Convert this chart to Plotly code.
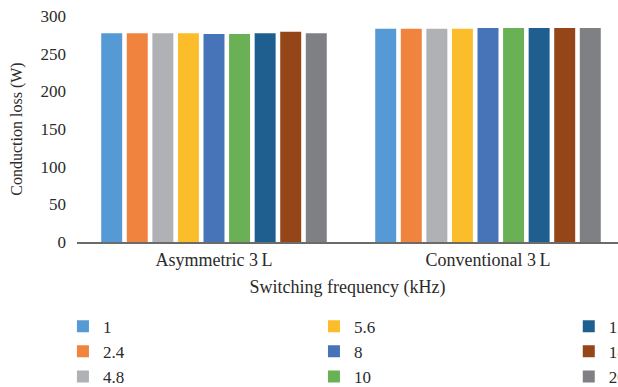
import plotly.graph_objects as go

categories = ["Asymmetric 3\u2009L", "Conventional 3\u2009L"]
frequencies = ["1", "2.4", "4.8", "5.6", "8", "10", "15", "18", "20"]
asym_values = [277, 277, 277, 277, 276, 276, 277, 279, 277]
conv_values = [283, 283, 283, 283, 284, 284, 284, 284, 284]
colors = ["#559AD5", "#F0833E", "#B0B1B4", "#FCBD2A", "#4774B8",
          "#6AB155", "#1F5F8F", "#954619", "#7F8083"]
legend_ids = ["legend", "legend", "legend", "legend2", "legend2", "legend2",
              "legend3", "legend3", "legend3"]

FONT = "Liberation Serif"
TXT = "#2b2b2b"

fig = go.Figure()
for i, f in enumerate(frequencies):
    fig.add_trace(go.Bar(
        x=categories, y=[asym_values[i], conv_values[i]], name=f,
        marker=dict(color=colors[i], line=dict(width=0)),
        legend=legend_ids[i],
    ))

leg_common = dict(orientation="v", yanchor="top", xanchor="left",
                  font=dict(family=FONT, size=17, color=TXT),
                  bgcolor="rgba(0,0,0,0)", itemwidth=30, y=-0.295)

fig.update_layout(
    width=618, height=387,
    margin=dict(l=77, r=0, t=16, b=145, autoexpand=False),
    plot_bgcolor="white", paper_bgcolor="white",
    barmode="group", bargap=0.16, bargroupgap=0.18,
    font=dict(family=FONT, color=TXT),
    xaxis=dict(range=[-0.5, 1.4745], showline=True, linecolor="#6b6b6b",
               linewidth=2, ticks="", showgrid=False,
               tickfont=dict(family=FONT, size=18, color=TXT),
               title=dict(text="Switching frequency (kHz)", standoff=12,
                          font=dict(family=FONT, size=18, color=TXT))),
    yaxis=dict(range=[0, 300], dtick=50, showgrid=False, showline=False,
               zeroline=False, ticks="", ticklabelstandoff=10,
               tickfont=dict(family=FONT, size=17, color=TXT),
               title=dict(text="Conduction loss (W)", standoff=13,
                          font=dict(family=FONT, size=16, color=TXT))),
    legend=dict(x=-0.026, **leg_common),
    legend2=dict(x=0.438, **leg_common),
    legend3=dict(x=0.909, **leg_common),
    showlegend=True,
)

fig.write_html("out.html")
